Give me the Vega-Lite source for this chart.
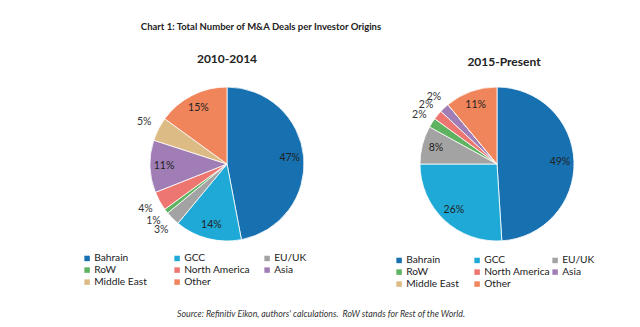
{
  "$schema": "https://vega.github.io/schema/vega-lite/v6.json",
  "padding": {"left": 82, "top": 21, "right": 5, "bottom": 5},
  "background": "white",
  "config": {"view": {"stroke": null}, "font": "Lato", "concat": {"spacing": 0}},
  "datasets": {
    "d": [
      {"period": "2010-2014", "origin": "Bahrain", "value": 47, "label": "47%", "k": 1},
      {"period": "2010-2014", "origin": "GCC", "value": 14, "label": "14%", "k": 2},
      {"period": "2010-2014", "origin": "EU/UK", "value": 3, "label": "3%", "k": 3},
      {"period": "2010-2014", "origin": "RoW", "value": 1, "label": "1%", "k": 4},
      {"period": "2010-2014", "origin": "North America", "value": 4, "label": "4%", "k": 5},
      {"period": "2010-2014", "origin": "Asia", "value": 11, "label": "11%", "k": 6},
      {"period": "2010-2014", "origin": "Middle East", "value": 5, "label": "5%", "k": 7},
      {"period": "2010-2014", "origin": "Other", "value": 15, "label": "15%", "k": 8},
      {"period": "2015-Present", "origin": "Bahrain", "value": 49, "label": "49%", "k": 1},
      {"period": "2015-Present", "origin": "GCC", "value": 26, "label": "26%", "k": 2},
      {"period": "2015-Present", "origin": "EU/UK", "value": 8, "label": "8%", "k": 3},
      {"period": "2015-Present", "origin": "RoW", "value": 2, "label": "2%", "k": 4},
      {"period": "2015-Present", "origin": "North America", "value": 2, "label": "2%", "k": 5},
      {"period": "2015-Present", "origin": "Asia", "value": 2, "label": "2%", "k": 6},
      {"period": "2015-Present", "origin": "Middle East", "value": 0, "label": "", "k": 7},
      {"period": "2015-Present", "origin": "Other", "value": 11, "label": "11%", "k": 8}
    ]
  },
  "title": {"text": "Source: Refinitiv Eikon, authors' calculations.\u00a0 RoW stands for Rest of the World.", "orient": "bottom", "anchor": "middle", "frame": "group", "dx": 229, "offset": 20, "fontSize": 8.8, "fontStyle": "italic", "fontWeight": "normal", "color": "#333"},
  "vconcat": [
    {
      "title": {"text": "Chart 1: Total Number of M&A Deals per Investor Origins", "anchor": "middle", "frame": "group", "dx": 169, "fontSize": 9.5, "fontWeight": "bold", "color": "#222", "offset": 22},
      "spacing": 0,
      "bounds": "flush",
      "resolve": {"scale": {"color": "independent"}},
      "hconcat": [
        {
          "width": 270, "height": 190,
          "title": {"text": "2010-2014", "fontSize": 12, "fontWeight": "bold", "color": "#222", "offset": 3},
          "data": {"name": "d"},
          "transform": [{"filter": "datum.period === '2010-2014'"}],
          "encoding": {
            "theta": {"field": "value", "type": "quantitative", "stack": true},
            "order": {"field": "k", "type": "quantitative"},
            "detail": {"field": "origin", "type": "nominal"}
          },
          "layer": [
            {
              "mark": {"type": "arc", "radius": 77, "stroke": "white", "strokeWidth": 0.8},
              "encoding": {
                "color": {"field": "origin", "type": "nominal",
                  "scale": {"domain": ["Bahrain", "GCC", "EU/UK", "RoW", "North America", "Asia", "Middle East", "Other"],
                            "range": ["#1770b0", "#1fa9d6", "#a3a3a3", "#5db35f", "#ee7670", "#a07eb5", "#ddbb85", "#f0855b"]},
                  "legend": {"orient": "none", "direction": "horizontal", "legendX": -10, "legendY": 184, "columns": 3, "title": null, "symbolType": "square", "symbolSize": 30, "labelFontSize": 10.2, "labelOffset": 2, "rowPadding": 1, "columnPadding": 12, "gridAlign": "all", "labelColor": "#222", "symbolStrokeWidth": 0}
                }
              }
            },
            {
              "mark": {"type": "text", "radius": 63, "fontSize": 10.5, "color": "#222"},
              "encoding": {"text": {"condition": {"test": "datum.value >= 8", "field": "label"}, "value": ""}}
            },
            {
              "mark": {"type": "text", "radius": 93, "fontSize": 10.5, "color": "#333"},
              "encoding": {"text": {"condition": {"test": "datum.value > 0 && datum.value < 8", "field": "label"}, "value": ""}}
            }
          ]
        },
        {
          "width": 270, "height": 190,
          "title": {"text": "2015-Present", "fontSize": 12, "fontWeight": "bold", "color": "#222", "offset": 0, "dx": 7},
          "data": {"name": "d"},
          "transform": [{"filter": "datum.period === '2015-Present'"}],
          "encoding": {
            "theta": {"field": "value", "type": "quantitative", "stack": true},
            "order": {"field": "k", "type": "quantitative"},
            "detail": {"field": "origin", "type": "nominal"}
          },
          "layer": [
            {
              "mark": {"type": "arc", "radius": 77, "stroke": "white", "strokeWidth": 0.8},
              "encoding": {
                "color": {"field": "origin", "type": "nominal",
                  "scale": {"domain": ["Bahrain", "GCC", "EU/UK", "RoW", "North America", "Asia", "Middle East", "Other"],
                            "range": ["#1770b0", "#1fa9d6", "#a3a3a3", "#5db35f", "#ee7670", "#a07eb5", "#ddbb85", "#f0855b"]},
                  "legend": {"orient": "none", "direction": "horizontal", "legendX": 32, "legendY": 186, "columns": 3, "title": null, "symbolType": "square", "symbolSize": 30, "labelFontSize": 10.2, "labelOffset": 2, "rowPadding": 1, "columnPadding": 0, "gridAlign": "all", "labelColor": "#222", "symbolStrokeWidth": 0}
                }
              }
            },
            {
              "mark": {"type": "text", "radius": 63, "fontSize": 10.5, "color": "#222"},
              "encoding": {"text": {"condition": {"test": "datum.value >= 8", "field": "label"}, "value": ""}}
            },
            {
              "mark": {"type": "text", "radius": 92, "fontSize": 10.5, "color": "#333"},
              "encoding": {"text": {"condition": {"test": "datum.value > 0 && datum.value < 8", "field": "label"}, "value": ""}}
            }
          ]
        }
      ]
    }
  ]
}
